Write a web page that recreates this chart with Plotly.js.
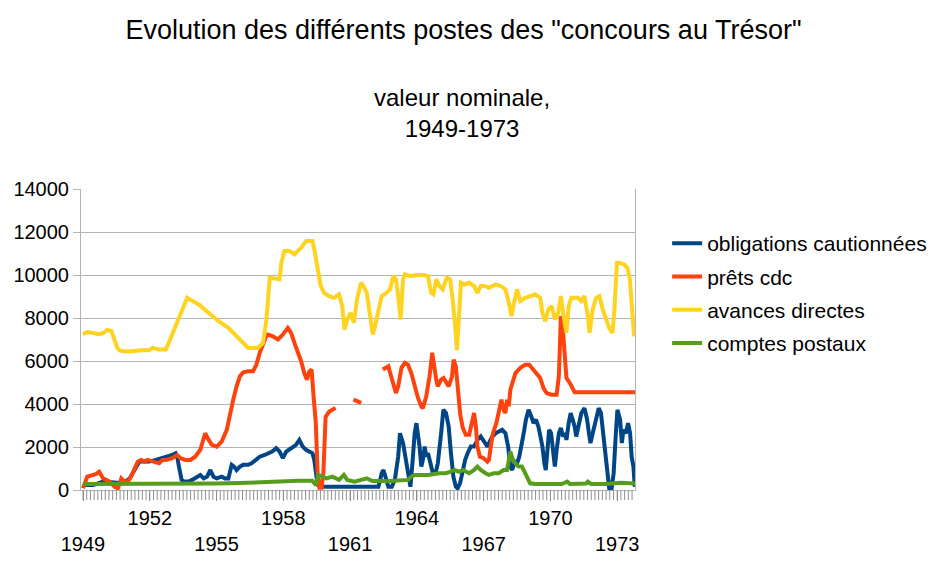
<!DOCTYPE html>
<html><head><meta charset="utf-8">
<script src="https://cdn.plot.ly/plotly-3.0.1.min.js"></script>
<style>html,body{margin:0;padding:0;background:#fff}#chart{width:944px;height:561px}</style>
</head><body><div id="chart"></div>
<script>
const seriesNames = ['obligations cautionnées', 'prêts cdc', 'avances directes', 'comptes postaux'];
const seriesColors = ['#004586', '#ff420e', '#ffd320', '#579d1c'];

const oblYears = [1949.0,1949.46,1949.9,1950.35,1950.79,1951.1,1951.31,1951.53,1951.75,1951.98,1952.27,1952.57,1952.87,1953.01,1953.16,1953.23,1953.31,1953.43,1953.53,1953.75,1953.9,1954.12,1954.27,1954.42,1954.57,1954.72,1954.86,1955.01,1955.23,1955.38,1955.53,1955.68,1955.79,1955.9,1956.05,1956.2,1956.42,1956.57,1956.79,1956.94,1957.16,1957.31,1957.5,1957.68,1957.83,1957.98,1958.13,1958.35,1958.57,1958.72,1958.87,1959.02,1959.17,1959.31,1959.39,1959.46,1959.54,1959.68,1962.27,1962.35,1962.42,1962.5,1962.57,1962.64,1962.72,1962.87,1963.01,1963.16,1963.24,1963.38,1963.53,1963.61,1963.71,1963.8,1963.9,1963.98,1964.05,1964.12,1964.2,1964.27,1964.35,1964.42,1964.5,1964.6,1964.72,1964.84,1964.94,1965.09,1965.19,1965.31,1965.43,1965.53,1965.64,1965.75,1965.83,1965.94,1966.06,1966.17,1966.28,1966.42,1966.57,1966.72,1966.87,1967.02,1967.17,1967.24,1967.39,1967.54,1967.69,1967.83,1967.98,1968.1,1968.2,1968.28,1968.4,1968.5,1968.6,1968.69,1968.8,1968.9,1969.02,1969.14,1969.24,1969.35,1969.46,1969.55,1969.64,1969.73,1969.79,1969.88,1969.94,1970.03,1970.13,1970.2,1970.28,1970.38,1970.47,1970.57,1970.65,1970.72,1970.82,1970.91,1971.0,1971.09,1971.16,1971.27,1971.39,1971.53,1971.65,1971.73,1971.8,1971.9,1972.05,1972.17,1972.27,1972.39,1972.5,1972.57,1972.64,1972.75,1972.84,1972.94,1973.01,1973.13,1973.21,1973.28,1973.39,1973.49,1973.58,1973.65,1973.73,1973.79];
const oblValues = [230,230,390,340,310,540,930,1320,1320,1320,1400,1480,1550,1630,1710,1550,1090,470,390,390,470,620,700,540,620,930,620,540,620,540,540,1170,1090,930,1090,1170,1170,1240,1400,1550,1630,1710,1790,1940,1790,1480,1790,1940,2100,2330,2020,1870,1790,1710,1400,780,230,150,150,470,780,930,620,470,150,150,470,1550,2640,2180,1240,620,150,1240,2640,3110,2640,2020,1090,1400,2020,1550,1710,1240,780,780,1240,2640,3730,3580,2950,1710,620,150,80,310,930,1400,1710,2020,2020,2330,2490,2250,2020,2180,2490,2640,2720,2800,2640,2020,1090,930,1320,1240,1550,2180,2640,3270,3730,3420,3110,3270,2950,2490,2020,1240,930,2020,2800,2640,1870,1090,1870,2640,2880,2490,2640,2330,3110,3580,3270,2950,2490,2950,3580,3810,3270,2640,2180,2640,3270,3810,3580,2490,1400,470,80,80,780,2640,3730,3270,2180,2800,2640,3110,2640,1550,1090,150];

const cdcYears = [1949.0,1949.19,1949.46,1949.6,1949.73,1949.9,1950.2,1950.42,1950.57,1950.72,1950.87,1951.02,1951.16,1951.31,1951.46,1951.61,1951.76,1951.9,1952.13,1952.42,1952.57,1952.72,1953.01,1953.23,1953.38,1953.6,1953.83,1954.05,1954.27,1954.42,1954.49,1954.6,1954.79,1955.01,1955.23,1955.46,1955.61,1955.75,1955.9,1956.05,1956.2,1956.42,1956.64,1956.79,1956.94,1957.09,1957.23,1957.31,1957.53,1957.76,1957.98,1958.2,1958.35,1958.5,1958.65,1958.8,1958.94,1959.06,1959.17,1959.27,1959.36,1959.46,1959.54,1959.62,1959.72,1959.8,1959.9,1960.06,1960.2,1960.35,1960.7,1961.15,1961.3,1961.5,1962.0,1962.47,1962.58,1962.72,1962.8,1962.94,1963.06,1963.16,1963.31,1963.46,1963.6,1963.75,1963.9,1964.05,1964.2,1964.27,1964.42,1964.57,1964.69,1964.79,1964.87,1964.94,1965.09,1965.2,1965.31,1965.43,1965.58,1965.65,1965.75,1965.83,1965.9,1965.95,1966.06,1966.2,1966.35,1966.5,1966.57,1966.65,1966.72,1966.83,1967.0,1967.17,1967.24,1967.32,1967.42,1967.57,1967.69,1967.8,1967.9,1967.98,1968.05,1968.13,1968.2,1968.31,1968.43,1968.65,1968.87,1969.05,1969.17,1969.31,1969.54,1969.69,1969.83,1970.06,1970.28,1970.38,1970.47,1970.57,1970.64,1970.72,1970.87,1971.01,1971.09,1973.83];
const cdcValues = [80,620,700,750,850,540,390,150,80,540,390,390,620,1010,1320,1400,1320,1400,1320,1240,1400,1400,1480,1630,1480,1400,1400,1560,1870,2490,2640,2410,2100,2020,2250,2800,3580,4200,4820,5290,5470,5520,5520,5830,6380,6840,7150,7230,7150,7000,7230,7540,7310,6840,6450,5990,5440,5130,5520,5600,4350,3110,780,100,100,800,3400,3650,3730,3810,null,4200,4120,4050,null,5600,5680,5750,5440,4980,4510,4820,5680,5910,5830,5440,4820,4280,3890,3810,4350,5290,6380,5600,5130,4820,5130,5210,4980,4820,5290,6060,5750,4820,3580,3500,2900,2570,2570,3270,3580,2950,2020,1550,1480,1320,1400,2020,2640,3110,3730,4200,3730,3580,4200,3890,4670,5130,5440,5680,5830,5830,5680,5440,5210,4740,4510,4430,4430,5300,8090,7300,6000,5210,4980,4670,4550,4550];

const avYears = [1949.0,1949.2,1949.46,1949.7,1949.9,1950.1,1950.27,1950.42,1950.55,1950.64,1950.79,1951.2,1951.6,1951.98,1952.13,1952.4,1952.72,1952.79,1953.01,1953.23,1953.46,1953.68,1953.75,1954.2,1954.64,1955.09,1955.53,1955.98,1956.42,1956.86,1957.09,1957.24,1957.39,1957.83,1957.91,1958.05,1958.28,1958.5,1958.8,1959.02,1959.31,1959.39,1959.54,1959.68,1959.83,1960.06,1960.28,1960.5,1960.65,1960.75,1960.87,1961.02,1961.17,1961.31,1961.49,1961.6,1961.75,1961.9,1962.02,1962.12,1962.27,1962.42,1962.64,1962.79,1962.94,1963.06,1963.16,1963.27,1963.38,1963.46,1963.7,1963.98,1964.3,1964.5,1964.64,1964.75,1964.87,1965.01,1965.16,1965.34,1965.49,1965.61,1965.72,1965.8,1965.9,1965.98,1966.13,1966.35,1966.57,1966.72,1966.87,1967.05,1967.24,1967.54,1967.76,1967.98,1968.13,1968.25,1968.35,1968.5,1968.65,1968.87,1969.09,1969.31,1969.54,1969.64,1969.76,1969.91,1970.06,1970.2,1970.35,1970.47,1970.57,1970.72,1970.82,1970.94,1971.24,1971.38,1971.53,1971.68,1971.76,1971.9,1972.05,1972.2,1972.35,1972.5,1972.64,1972.79,1972.87,1972.99,1973.09,1973.31,1973.46,1973.57,1973.68,1973.76,1973.83];
const avValues = [7250,7350,7300,7250,7300,7450,7400,7000,6600,6500,6450,6450,6500,6500,6620,6530,6530,6690,7230,7780,8400,8940,8900,8630,8240,7850,7540,7080,6610,6610,6840,7930,9870,9800,10570,11120,11120,10960,11270,11580,11580,11200,10420,9490,9170,9020,8940,9100,8550,7460,7930,8240,7780,8860,9640,9490,9170,8240,7230,7620,8240,9020,9170,9330,9950,9800,9020,7930,9800,10030,9950,10000,10000,9950,9170,9100,9800,9490,9330,9880,9800,8860,7620,6500,8200,9640,9560,9640,9490,9170,9490,9490,9410,9560,9490,9330,8710,8090,8630,9330,8790,8940,9020,9100,8940,8240,7850,8400,8550,7930,8240,9020,8240,7310,8550,8940,8940,8790,9020,8090,7310,8400,8940,9020,8400,7930,7540,7310,8320,10570,10570,10490,10340,9800,8400,7150,7770];

const cpYears = [1949.0,1950.0,1951.0,1952.0,1953.0,1954.0,1955.0,1956.0,1956.7,1957.5,1958.7,1959.3,1959.46,1959.57,1959.72,1959.94,1960.2,1960.35,1960.5,1960.72,1960.87,1961.2,1961.5,1961.75,1962.0,1962.8,1963.6,1963.75,1963.9,1964.5,1964.99,1965.3,1965.52,1965.68,1965.9,1966.06,1966.35,1966.57,1966.72,1966.87,1967.09,1967.24,1967.46,1967.68,1967.9,1968.05,1968.2,1968.31,1968.43,1968.57,1968.72,1968.87,1968.99,1969.09,1969.31,1970.0,1970.5,1970.76,1970.87,1971.6,1971.68,1971.83,1972.5,1973.16,1973.83];
const cpValues = [280,280,260,280,280,280,300,320,360,360,430,430,230,700,620,540,620,540,470,700,470,390,470,540,420,420,470,620,700,700,780,780,850,930,850,930,780,930,1090,930,780,700,780,780,930,930,1790,1400,1240,1090,1090,780,470,310,280,280,280,390,280,300,390,280,280,340,300];

const tickYears = [1949, 1952, 1955, 1958, 1961, 1964, 1967, 1970, 1973];
const yTicks = [0, 2000, 4000, 6000, 8000, 10000, 12000, 14000];

const titleText = 'Evolution des différents postes des "concours au Trésor"';
const subtitleText = 'valeur nominale,<br>1949-1973';

const xs = [oblYears, cdcYears, avYears, cpYears];
const ys = [oblValues, cdcValues, avValues, cpValues];

const tickText = tickYears.map((y, i) => i % 2 === 0 ? '\u00a0<br>' + y : String(y));
const xRange = [1948.91, 1973.8];
const yRange = [0, 14000];
const plotHeightPx = 301;

// positions of the two-monthly tick marks along the x axis
const minorTickPos = [];
for (let k = 0; 1949 + k / 6 <= xRange[1]; k++) minorTickPos.push(1949 + k / 6);

// tick-mark comb drawn as unclipped line-shaped markers just below the axis
const tickMarkTrace = {
  type: 'scatter', mode: 'markers', x: minorTickPos,
  y: minorTickPos.map(() => -5 / plotHeightPx * (yRange[1] - yRange[0])),
  marker: {symbol: 'line-ns', size: 10, color: '#8f8f8f', line: {color: '#8f8f8f', width: 1}},
  cliponaxis: false, showlegend: false, hoverinfo: 'skip'
};

const traces = [tickMarkTrace].concat(seriesNames.map((n, i) => ({
  type: 'scatter', mode: 'lines', name: n,
  x: xs[i], y: ys[i], legendgroup: 'g' + i,
  connectgaps: false,
  line: {color: seriesColors[i], width: 4},
  hoverinfo: 'skip'
})));

const tickShapes = minorTickPos.map(v => {
  const px = (v - xRange[0]) / (xRange[1] - xRange[0]);
  return {type: 'line', xref: 'paper', yref: 'paper', x0: px, x1: px, y0: 0, y1: -10 / plotHeightPx,
    line: {color: '#8f8f8f', width: 1}, layer: 'above'};
});

const layout = {
  width: 944, height: 561,
  margin: {l: 81, r: 303, t: 189, b: 71, pad: 0},
  paper_bgcolor: '#ffffff', plot_bgcolor: '#ffffff',
  font: {family: 'Liberation Sans, Arial, sans-serif', color: '#000000', size: 20},
  title: {text: titleText, font: {size: 27, color: '#000'}, x: 0.491, xref: 'container', xanchor: 'center', y: 1 - 30/561, yref: 'container', yanchor: 'middle'},
  annotations: [{text: subtitleText, xref: 'paper', yref: 'paper', x: 0.688, y: 1.254, xanchor: 'center', yanchor: 'middle', showarrow: false, font: {size: 24, color: '#000'}}],
  shapes: tickShapes,
  xaxis: {
    type: 'linear', range: xRange, automargin: false,
    tickmode: 'array', tickvals: tickYears, ticktext: tickText,
    ticks: 'outside', ticklen: 10, tickcolor: '#8f8f8f', tickwidth: 1,
    showgrid: false, zeroline: false, showline: true, linecolor: '#b3b3b3',
    tickfont: {size: 20, color: '#000'}, tickangle: 0
  },
  yaxis: {
    range: yRange, tickmode: 'array', tickvals: yTicks, tickformat: 'd', automargin: false,
    gridcolor: '#b3b3b3', gridwidth: 1, zeroline: false,
    showline: true, mirror: true, linecolor: '#b3b3b3',
    ticks: 'outside', ticklen: 7, tickcolor: '#b3b3b3',
    tickfont: {size: 20, color: '#000'}
  },
  showlegend: true,
  legend: {x: 1.058, xanchor: 'left', y: 0.887, yanchor: 'top', font: {size: 21, color: '#000'}, tracegroupgap: 3, bgcolor: 'rgba(0,0,0,0)'}
};

Plotly.newPlot('chart', traces, layout, {displayModeBar: false, staticPlot: true});
</script>
</body></html>
